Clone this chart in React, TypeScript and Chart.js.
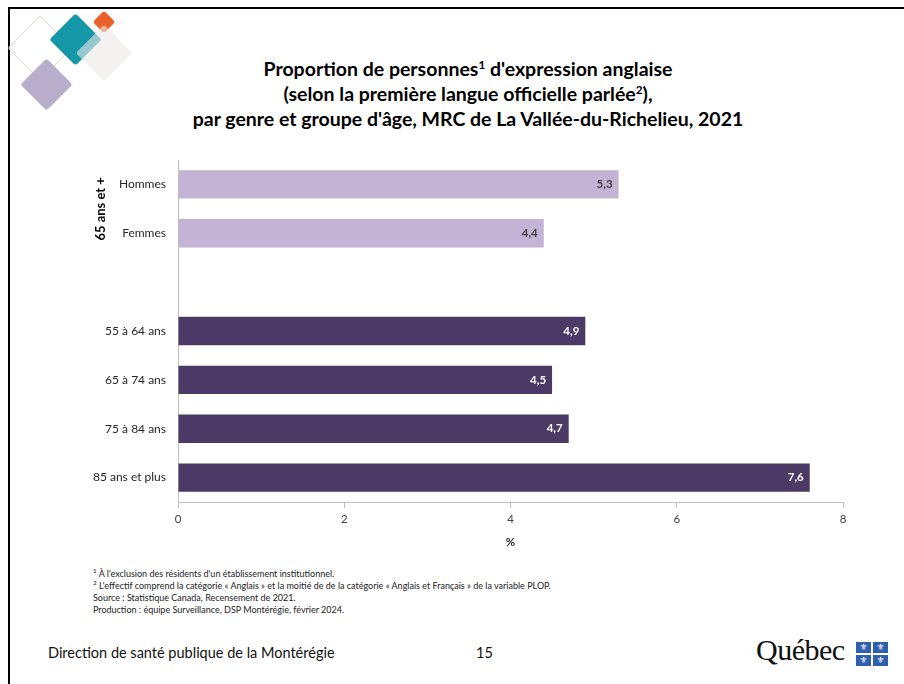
import React, { useEffect, useRef } from "react";
import { Chart, registerables } from "chart.js";

Chart.register(...registerables);

const categories = ["Hommes", "Femmes", "", "55 à 64 ans", "65 à 74 ans", "75 à 84 ans", "85 ans et plus"];
const values: (number | null)[] = [5.3, 4.4, null, 4.9, 4.5, 4.7, 7.6];
const groups = ["light", "light", "none", "dark", "dark", "dark", "dark"];
const xTicks = [0, 2, 4, 6, 8];
const groupLabel = "65 ans et +";

const LIGHT = "#c3b4d5";
const DARK = "#4b3a66";

const labelPlugin = {
  id: "labels",
  afterDatasetsDraw(chart: any) {
    const ctx = chart.ctx;
    const meta = chart.getDatasetMeta(0);
    ctx.save();
    ctx.font = "bold 11.5px Lato";
    ctx.textAlign = "right";
    ctx.textBaseline = "middle";
    meta.data.forEach((bar: any, i: number) => {
      const v = values[i];
      if (v == null) return;
      ctx.fillStyle = groups[i] === "light" ? "#404040" : "#ffffff";
      ctx.fillText(v.toFixed(1).replace(".", ","), bar.x - 6, bar.y);
    });
    const ys = chart.scales.y;
    const yc = (ys.getPixelForValue(0) + ys.getPixelForValue(1)) / 2;
    ctx.translate(101, yc);
    ctx.rotate(-Math.PI / 2);
    ctx.textAlign = "center";
    ctx.fillStyle = "#000";
    ctx.font = "bold 13px Lato";
    ctx.fillText(groupLabel, 0, 0);
    ctx.restore();
  },
};

function Diamond({ cx, cy, side, color, border, z }: any) {
  return (
    <div
      style={{
        position: "absolute",
        left: cx - side / 2,
        top: cy - side / 2,
        width: side,
        height: side,
        background: color,
        border: border,
        boxSizing: "border-box",
        borderRadius: 3,
        transform: "rotate(45deg)",
        zIndex: z,
      }}
    />
  );
}

export default function App() {
  const ref = useRef<HTMLCanvasElement>(null);
  useEffect(() => {
    if (!ref.current) return;
    const chart = new Chart(ref.current, {
      type: "bar",
      data: {
        labels: categories,
        datasets: [
          {
            data: values,
            backgroundColor: groups.map((g) => (g === "light" ? LIGHT : DARK)),
            barPercentage: 0.58,
            categoryPercentage: 1,
          },
        ],
      },
      options: {
        indexAxis: "y",
        responsive: false,
        animation: false,
        layout: { padding: { top: 160, right: 61, bottom: 7, left: 0 } },
        plugins: { legend: { display: false }, tooltip: { enabled: false } },
        scales: {
          x: {
            min: 0,
            max: 8,
            afterFit: (s: any) => {
              s.height = 51;
            },
            afterBuildTicks: (s: any) => {
              s.ticks = xTicks.map((v) => ({ value: v }));
            },
            grid: { drawOnChartArea: false, drawTicks: true, tickLength: 6, color: "#bfbfbf" },
            border: { display: true, color: "#bfbfbf" },
            ticks: { color: "#404040", font: { size: 11.5, family: "Lato" }, padding: 4 },
            title: { display: true, text: "%", color: "#262626", font: { size: 11.5, weight: "bold", family: "Lato" }, padding: { top: 0, bottom: 4 } },
          },
          y: {
            afterFit: (s: any) => {
              s.width = 178;
            },
            grid: { display: false, drawTicks: false },
            border: { display: true, color: "#bfbfbf" },
            ticks: { color: "#262626", font: { size: 12, family: "Lato" }, padding: 12 },
          },
        },
      },
      plugins: [labelPlugin],
    } as any);
    return () => chart.destroy();
  }, []);

  return (
    <div
      style={{
        position: "fixed",
        left: 0,
        top: 0,
        width: 904,
        height: 684,
        background: "#fff",
        overflow: "hidden",
        fontFamily: "Lato",
        color: "#000",
      }}
    >
      <div
        style={{
          position: "absolute",
          left: 8,
          top: 7,
          width: 1000,
          height: 800,
          borderLeft: "2px solid #000",
          borderTop: "2px solid #000",
        }}
      />
      <Diamond cx={40} cy={48} side={46} color="transparent" border="1.5px solid #d9e0d3" z={1} />
      <Diamond cx={75} cy={39} side={37} color="#1597a8" z={2} />
      <Diamond cx={104} cy={22} side={16} color="#e8622a" z={2} />
      <Diamond cx={104} cy={53} side={40} color="rgba(236,233,230,0.6)" z={3} />
      <Diamond cx={46} cy={84} side={37} color="#b8aecb" z={2} />
      <div
        style={{
          position: "absolute",
          left: 118,
          top: 56,
          width: 700,
          textAlign: "center",
          fontWeight: "bold",
          fontSize: 19.5,
          lineHeight: "25px",
          color: "#000",
        }}
      >
        Proportion de personnes<sup style={{ fontSize: "0.6em", lineHeight: 0 }}>1</sup> d'expression anglaise
        <br />
        (selon la première langue officielle parlée<sup style={{ fontSize: "0.6em", lineHeight: 0 }}>2</sup>),
        <br />
        par genre et groupe d'âge, MRC de La Vallée-du-Richelieu, 2021
      </div>
      <canvas ref={ref} width={904} height={560} style={{ position: "absolute", left: 0, top: 0, width: 904, height: 560 }} />
      <div style={{ position: "absolute", left: 93, top: 568, fontSize: 9, lineHeight: "12px", color: "#222" }}>
        <div>
          <sup style={{ fontSize: "0.7em", lineHeight: 0 }}>1</sup> À l'exclusion des résidents d'un établissement institutionnel.
        </div>
        <div>
          <sup style={{ fontSize: "0.7em", lineHeight: 0 }}>2</sup> L'effectif comprend la catégorie « Anglais » et la moitié de de la catégorie « Anglais et Français » de la variable PLOP.
        </div>
        <div>Source : Statistique Canada, Recensement de 2021.</div>
        <div>Production : équipe Surveillance, DSP Montérégie, février 2024.</div>
      </div>
      <div style={{ position: "absolute", left: 48, top: 644, fontSize: 14.5, color: "#111" }}>
        Direction de santé publique de la Montérégie
      </div>
      <div style={{ position: "absolute", left: 476, top: 644, fontSize: 14.5, color: "#111" }}>15</div>
      <div
        style={{
          position: "absolute",
          left: 756,
          top: 633,
          fontSize: 30,
          fontFamily: "Liberation Serif",
          color: "#111",
          letterSpacing: -0.5,
        }}
      >
        Québec
      </div>
      <div style={{ position: "absolute", left: 856, top: 642, width: 32, height: 24 }}>
        {[0, 1, 2, 3].map((i) => (
          <div
            key={i}
            style={{
              position: "absolute",
              left: (i % 2) * 17,
              top: Math.floor(i / 2) * 13,
              width: 15,
              height: 11,
              background: "#2f5fae",
              color: "#fff",
              fontSize: 9,
              lineHeight: "11px",
              textAlign: "center",
              fontFamily: "DejaVu Sans",
            }}
          >
            ⚜
          </div>
        ))}
      </div>
    </div>
  );
}
